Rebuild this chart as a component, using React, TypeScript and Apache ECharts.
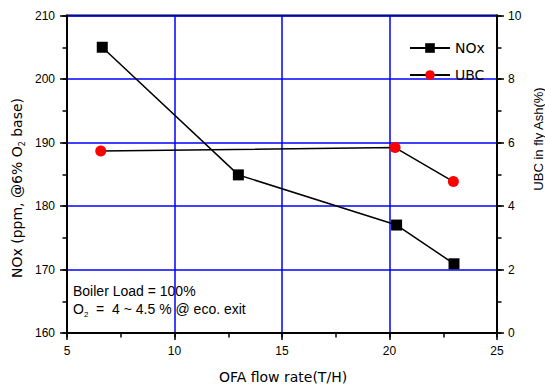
import React, { useEffect, useRef } from "react";
import * as echarts from "echarts";

const noxX = [6.64, 12.97, 20.33, 23.0];
const noxY = [205, 184.9, 177, 170.9];
const ubcX = [6.57, 20.26, 22.97];
const ubcY = [5.73, 5.84, 4.77];

const xTicks = { min: 5, max: 25, interval: 5, minor: 2.5 };
const leftTicks = { min: 160, max: 210, interval: 10, minor: 5 };
const rightTicks = { min: 0, max: 10, interval: 2, minor: 1 };

const ARIAL = "'Liberation Sans', Arial, sans-serif";
const DEJAVU = "'DejaVu Sans', sans-serif";

export default function App() {
  const ref = useRef<HTMLDivElement>(null);
  useEffect(() => {
    const chart = echarts.init(ref.current!, null, { renderer: "svg" });
    const axisLine = { show: true, lineStyle: { color: "#000", width: 2 } };
    const tick = { show: true, inside: false, length: 7, lineStyle: { color: "#000", width: 1.5 } };
    const minorTickAxis = { show: true, inside: false, length: 4.5, lineStyle: { color: "#000", width: 1.5 } };
    const label = { color: "#000", fontSize: 12, fontFamily: ARIAL };
    const hidden = { axisLine: { show: false }, axisLabel: { show: false }, splitLine: { show: false } };
    const gridBox = { left: 67, right: 48, top: 15.5, bottom: 54 };
    chart.setOption({
      animation: false,
      textStyle: { fontFamily: ARIAL },
      grid: [
        { ...gridBox, show: true, borderColor: "#000", borderWidth: 2 },
        { ...gridBox, show: false },
      ],
      legend: {
        orient: "vertical",
        left: 404,
        top: 36,
        itemWidth: 40,
        itemHeight: 12,
        itemGap: 13,
        textStyle: { color: "#000", fontSize: 14, lineHeight: 12, fontFamily: DEJAVU },
        data: ["NOx", "UBC"],
      },
      xAxis: [
        {
          type: "value",
          gridIndex: 0,
          min: xTicks.min,
          max: xTicks.max,
          interval: xTicks.interval,
          axisLine,
          axisTick: tick,
          axisLabel: { ...label, margin: 12 },
          splitLine: { show: true, lineStyle: { color: "#0000ff", width: 1.5 } },
        },
        {
          type: "value",
          gridIndex: 1,
          position: "bottom",
          min: xTicks.min,
          max: xTicks.max,
          interval: xTicks.minor,
          axisTick: minorTickAxis,
          ...hidden,
        },
      ],
      yAxis: [
        {
          type: "value",
          gridIndex: 0,
          min: leftTicks.min,
          max: leftTicks.max,
          interval: leftTicks.interval,
          position: "left",
          axisLine,
          axisTick: tick,
          axisLabel: { ...label, margin: 12 },
          splitLine: { show: true, lineStyle: { color: "#0000ff", width: 1.5 } },
        },
        {
          type: "value",
          gridIndex: 0,
          min: rightTicks.min,
          max: rightTicks.max,
          interval: rightTicks.interval,
          position: "right",
          axisLine,
          axisTick: tick,
          axisLabel: { ...label, margin: 11 },
          splitLine: { show: false },
        },
        {
          type: "value",
          gridIndex: 1,
          min: leftTicks.min,
          max: leftTicks.max,
          interval: leftTicks.minor,
          position: "left",
          axisTick: minorTickAxis,
          ...hidden,
        },
        {
          type: "value",
          gridIndex: 1,
          min: rightTicks.min,
          max: rightTicks.max,
          interval: rightTicks.minor,
          position: "right",
          axisTick: minorTickAxis,
          ...hidden,
        },
      ],
      series: [
        {
          name: "NOx",
          type: "line",
          xAxisIndex: 0,
          yAxisIndex: 0,
          data: noxX.map((x, i) => [x, noxY[i]]),
          symbol: "rect",
          symbolSize: 11,
          itemStyle: { color: "#000" },
          lineStyle: { color: "#000", width: 1.5 },
          z: 3,
        },
        {
          name: "UBC",
          type: "line",
          xAxisIndex: 0,
          yAxisIndex: 1,
          data: ubcX.map((x, i) => [x, ubcY[i]]),
          symbol: "circle",
          symbolSize: 11,
          itemStyle: { color: "#ff0000" },
          lineStyle: { color: "#000", width: 1.5 },
          z: 3,
        },
      ],
      graphic: [
        {
          type: "text",
          x: 283,
          y: 377,
          style: {
            text: "OFA flow rate(T/H)",
            fontSize: 14,
            fill: "#000",
            fontFamily: DEJAVU,
            align: "center",
            verticalAlign: "middle",
          },
        },
        {
          type: "text",
          x: 17,
          y: 188,
          rotation: Math.PI / 2,
          style: {
            text: "NOx (ppm, @6% O{sub|2} base)",
            fontSize: 14,
            fill: "#000",
            fontFamily: DEJAVU,
            align: "center",
            verticalAlign: "middle",
            rich: { sub: { fontSize: 8, padding: [10, 0, 0, 0], fill: "#000", fontFamily: DEJAVU } },
          },
        },
        {
          type: "text",
          x: 538,
          y: 139,
          rotation: Math.PI / 2,
          style: {
            text: "UBC in fly Ash(%)",
            fontSize: 13,
            fill: "#000",
            fontFamily: ARIAL,
            align: "center",
            verticalAlign: "middle",
          },
        },
        {
          type: "text",
          left: 73,
          top: 284,
          style: { text: "Boiler Load = 100%", fontSize: 14, fill: "#000", fontFamily: ARIAL },
        },
        {
          type: "text",
          left: 73,
          top: 302,
          style: {
            text: "O{sub|2}  =  4 ~ 4.5 % @ eco. exit",
            fontSize: 14,
            fill: "#000",
            fontFamily: ARIAL,
            rich: { sub: { fontSize: 8, padding: [10, 0, 0, 0], fill: "#000", fontFamily: ARIAL } },
          },
        },
      ],
    });
    return () => chart.dispose();
  }, []);
  return <div ref={ref} style={{ width: 545, height: 387, position: "absolute", left: 0, top: 0 }} />;
}
